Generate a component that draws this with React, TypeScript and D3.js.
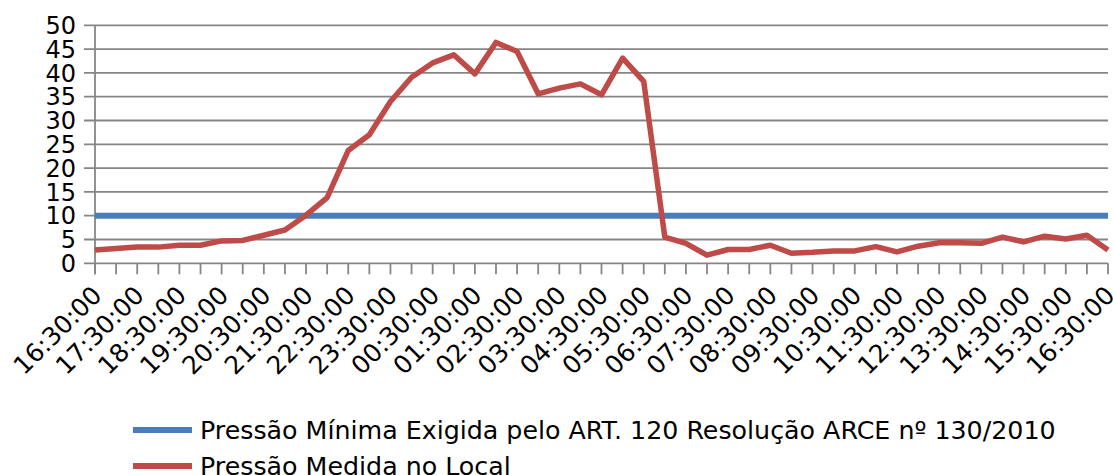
import React, { useEffect, useRef } from "react";
import * as d3 from "d3";

// one point every 30 minutes, 16:30 to 16:30 next day; only the full-hour ones carry a label
const hourLabels = [
  "16:30:00", "17:30:00", "18:30:00", "19:30:00", "20:30:00", "21:30:00",
  "22:30:00", "23:30:00", "00:30:00", "01:30:00", "02:30:00", "03:30:00",
  "04:30:00", "05:30:00", "06:30:00", "07:30:00", "08:30:00", "09:30:00",
  "10:30:00", "11:30:00", "12:30:00", "13:30:00", "14:30:00", "15:30:00",
  "16:30:00",
];
const measuredPressure = [
  2.8, 3.1, 3.4, 3.4, 3.8, 3.8, 4.7, 4.8, 5.9, 7.0, 10.1, 13.8, 23.7, 27.0,
  34.0, 39.1, 42.1, 43.8, 39.8, 46.4, 44.5, 35.6, 36.8, 37.7, 35.4, 43.1,
  38.2, 5.5, 4.2, 1.7, 2.9, 2.9, 3.8, 2.1, 2.3, 2.6, 2.6, 3.5, 2.4, 3.6, 4.3,
  4.3, 4.2, 5.5, 4.5, 5.7, 5.1, 5.9, 2.8,
];
const minimumPressure = 10;
const yTicks = [0, 5, 10, 15, 20, 25, 30, 35, 40, 45, 50];
const seriesNames = [
  "Pressão Mínima Exigida pelo ART. 120 Resolução ARCE nº 130/2010",
  "Pressão Medida no Local",
];
const seriesColors = ["#4a7ebb", "#be4b48"];

function App() {
  const width = 1113;
  const height = 475;
  const left = 95;
  const right = 1108;
  const top = 25.3;
  const bottom = 263.3;
  const tickLen = 11;
  const gridColor = "#868686";
  const svgRef = useRef(null);

  useEffect(() => {
    const svg = d3.select(svgRef.current);
    svg.selectAll("*").remove();

    const xScale = d3
      .scalePoint()
      .domain(measuredPressure.map((d, i) => i))
      .range([left, right]);
    const yScale = d3.scaleLinear().domain([0, 50]).range([bottom, top]);

    // horizontal grid + left ticks
    svg
      .append("g")
      .selectAll("line")
      .data(yTicks)
      .join("line")
      .attr("x1", left - tickLen)
      .attr("x2", right)
      .attr("y1", (d) => yScale(d))
      .attr("y2", (d) => yScale(d))
      .attr("stroke", gridColor)
      .attr("stroke-width", 1.8);

    svg
      .append("line")
      .attr("x1", left)
      .attr("x2", left)
      .attr("y1", top)
      .attr("y2", bottom + tickLen)
      .attr("stroke", gridColor)
      .attr("stroke-width", 1.8);

    // x ticks (every half hour)
    svg
      .append("g")
      .selectAll("line")
      .data(measuredPressure.map((d, i) => i))
      .join("line")
      .attr("x1", (i) => xScale(i))
      .attr("x2", (i) => xScale(i))
      .attr("y1", bottom)
      .attr("y2", bottom + tickLen)
      .attr("stroke", gridColor)
      .attr("stroke-width", 1.8);

    // y labels
    svg
      .append("g")
      .selectAll("text")
      .data(yTicks)
      .join("text")
      .attr("x", left - tickLen - 8)
      .attr("y", (d) => yScale(d))
      .attr("dy", "0.36em")
      .attr("text-anchor", "end")
      .style("font-family", "DejaVu Sans")
      .style("font-size", "24px")
      .attr("fill", "#000")
      .text((d) => d);

    // x labels, one per hour
    svg
      .append("g")
      .selectAll("text")
      .data(hourLabels)
      .join("text")
      .attr("transform", (d, k) => `translate(${xScale(k * 2) + 2},${bottom + 27}) rotate(-45)`)
      .attr("dy", "0.36em")
      .attr("text-anchor", "end")
      .style("font-family", "DejaVu Sans")
      .style("font-size", "25px")
      .attr("fill", "#000")
      .text((d) => d);

    // minimum required pressure
    svg
      .append("line")
      .attr("x1", xScale(0))
      .attr("x2", xScale(measuredPressure.length - 1))
      .attr("y1", yScale(minimumPressure))
      .attr("y2", yScale(minimumPressure))
      .attr("stroke", seriesColors[0])
      .attr("stroke-width", 6);

    const line = d3
      .line()
      .x((d, i) => xScale(i))
      .y((d) => yScale(d));

    svg
      .append("path")
      .datum(measuredPressure)
      .attr("d", line)
      .attr("fill", "none")
      .attr("stroke", seriesColors[1])
      .attr("stroke-width", 5.5)
      .attr("stroke-linejoin", "round");

    // legend
    const legend = svg
      .append("g")
      .selectAll("g")
      .data(seriesNames)
      .join("g")
      .attr("transform", (d, i) => `translate(133,${430 + i * 36})`);
    legend
      .append("line")
      .attr("x1", 0)
      .attr("x2", 59)
      .attr("stroke", (d, i) => seriesColors[i])
      .attr("stroke-width", 6);
    legend
      .append("text")
      .attr("x", 67)
      .attr("dy", "0.36em")
      .style("font-family", "DejaVu Sans")
      .style("font-size", "25.3px")
      .attr("fill", "#000")
      .text((d) => d);
  }, []);

  return (
    <svg
      ref={svgRef}
      width={width}
      height={height}
      style={{ position: "absolute", left: 0, top: 0, background: "#fff" }}
    />
  );
}

export default App;
